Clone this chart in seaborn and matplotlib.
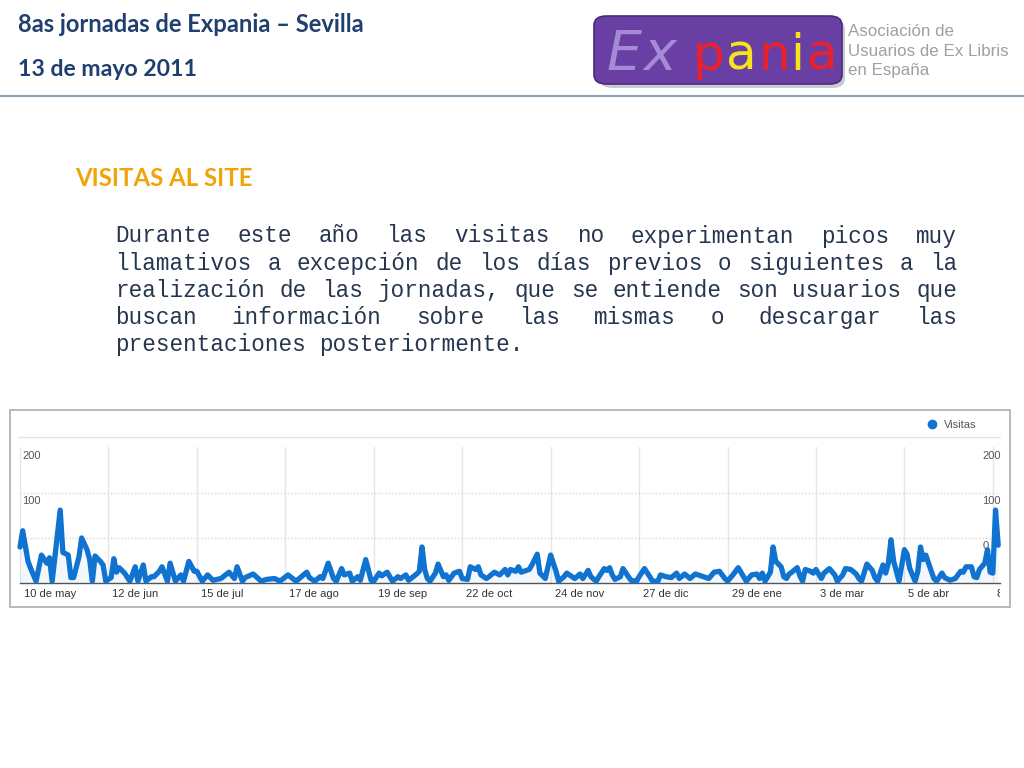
import numpy as np
import pandas as pd
import matplotlib
matplotlib.use("Agg")
import matplotlib.pyplot as plt
import matplotlib.transforms as mtransforms
import seaborn as sns
from matplotlib.patches import FancyBboxPatch, Rectangle
from matplotlib.lines import Line2D

# ---------------- data ----------------
fecha_inicio = "2010-05-10"
dias = [0, 1, 3, 4, 6, 8, 10, 11, 12, 15, 16, 18, 19, 20, 22, 23, 25, 26, 27, 28,
        30, 31, 32, 34, 35, 36, 37, 39, 41, 43, 44, 46, 47, 49, 50, 52, 53, 55, 56, 58,
        60, 61, 63, 65, 66, 68, 70, 72, 75, 78, 80, 81, 83, 84, 87, 90, 92, 95, 97, 100,
        103, 107, 108, 110, 112, 113, 115, 117, 118, 120, 121, 123, 124, 126, 127, 129, 131, 132, 134, 135,
        137, 139, 141, 142, 144, 145, 148, 149, 150, 151, 152, 153, 155, 156, 158, 159, 160, 162, 164, 165,
        167, 168, 170, 171, 172, 174, 175, 177, 179, 181, 182, 183, 185, 186, 187, 190, 191, 193, 194, 196,
        198, 200, 201, 203, 204, 206, 207, 209, 210, 212, 213, 215, 216, 218, 219, 220, 221, 222, 224, 225,
        227, 228, 230, 231, 233, 235, 236, 238, 239, 241, 243, 245, 246, 248, 250, 252, 253, 255, 257, 259,
        261, 263, 264, 266, 268, 270, 271, 273, 275, 276, 277, 278, 279, 280, 281, 282, 284, 285, 286, 287,
        288, 290, 291, 292, 293, 295, 296, 297, 299, 300, 302, 304, 305, 307, 308, 310, 312, 313, 314, 316,
        318, 319, 320, 322, 323, 324, 325, 326, 328, 330, 331, 332, 334, 335, 336, 337, 338, 339, 341, 342,
        344, 345, 347, 349, 351, 352, 353, 355, 356, 357, 358, 360, 361, 362, 363, 364, 365]
visitas = [40, 58, 24, 16, 2, 31, 22, 28, 2, 81, 34, 31, 6, 6, 29, 50, 37, 26, 2, 30,
           24, 20, 2, 6, 27, 12, 17, 11, 2, 18, 2, 20, 2, 7, 7, 13, 18, 2, 22, 2,
           9, 2, 24, 13, 13, 2, 9, 3, 5, 12, 5, 18, 2, 6, 10, 2, 4, 5, 2, 9,
           2, 12, 6, 2, 7, 5, 22, 5, 2, 16, 9, 11, 2, 7, 3, 26, 3, 2, 11, 8,
           12, 2, 7, 5, 9, 3, 10, 13, 40, 15, 5, 2, 11, 21, 7, 9, 3, 11, 13, 5,
           4, 18, 15, 18, 9, 5, 7, 12, 9, 15, 9, 15, 13, 18, 12, 15, 20, 32, 11, 5,
           31, 13, 2, 7, 11, 7, 5, 10, 5, 14, 7, 2, 7, 16, 14, 17, 9, 4, 7, 16,
           7, 3, 2, 7, 16, 7, 2, 2, 9, 7, 6, 11, 5, 10, 5, 10, 9, 7, 5, 12,
           13, 5, 2, 9, 17, 7, 2, 9, 10, 5, 11, 2, 7, 12, 40, 24, 18, 7, 5, 10,
           12, 17, 8, 2, 15, 13, 11, 15, 5, 11, 16, 9, 2, 9, 16, 15, 10, 5, 2, 21,
           14, 6, 2, 20, 11, 22, 48, 24, 2, 37, 32, 16, 2, 13, 40, 26, 31, 22, 5, 2,
           11, 6, 3, 5, 13, 12, 18, 18, 7, 6, 15, 22, 37, 12, 11, 81, 42]

tick_fechas = ["2010-05-10", "2010-06-12", "2010-07-15", "2010-08-17", "2010-09-19", "2010-10-22",
               "2010-11-24", "2010-12-27", "2011-01-29", "2011-03-03", "2011-04-05", "2011-05-08"]
tick_etiquetas = ["10 de may", "12 de jun", "15 de jul", "17 de ago", "19 de sep", "22 de oct",
                  "24 de nov", "27 de dic", "29 de ene", "3 de mar", "5 de abr", "8 de may"]
y_etiquetas_izq = ["200", "100"]
y_etiquetas_der = ["200", "100", "0"]
serie = "Visitas"

titulo1 = "8as jornadas de Expania \u2013 Sevilla"
titulo2 = "13 de mayo 2011"
seccion = "VISITAS AL SITE"
parrafo = ["Durante este año las visitas no experimentan picos muy",
           "llamativos a excepción de los días previos o siguientes a la",
           "realización de las jornadas, que se entiende son usuarios que",
           "buscan información sobre las mismas o descargar las",
           "presentaciones posteriormente."]
logo_letras = ["E", "x", "p", "a", "n", "i", "a"]
logo_colores = ["#a58ad6", "#a58ad6", "#e8212b", "#f6e51b", "#e8212b", "#f6e51b", "#e8212b"]
asociacion = ["Asociación de", "Usuarios de Ex Libris", "en España"]

# ---------------- figure ----------------
sns.set_style("white")
plt.rcParams["font.family"] = ["Liberation Sans", "DejaVu Sans"]

W, H = 1024, 768
fig = plt.figure(figsize=(W / 100, H / 100), dpi=100)
fig.patch.set_facecolor("white")

def fx(px):
    return px / W

def fy(py):
    return 1 - py / H

# header texts
t1 = fig.text(fx(18), fy(25), titulo1, fontsize=15, fontweight="bold", color="#1f3f6e",
              family=["Lato", "DejaVu Sans"], ha="left", va="center")
t2 = fig.text(fx(18), fy(70), titulo2, fontsize=15, fontweight="bold", color="#1f3f6e",
              family=["Lato", "DejaVu Sans"], ha="left", va="center")
fig.add_artist(Line2D([0, 1], [fy(96), fy(96)], transform=fig.transFigure,
                      color="#8ea2b5", lw=1.6))

# logo
shadow = FancyBboxPatch((fx(600), fy(88)), fx(245), fy(20) - fy(88),
                        boxstyle="round,pad=0,rounding_size=0.012",
                        transform=fig.transFigure, facecolor="#bdbdc8", edgecolor="none", alpha=0.8)
fig.add_artist(shadow)
box = FancyBboxPatch((fx(594), fy(84)), fx(248), fy(16) - fy(84),
                     boxstyle="round,pad=0,rounding_size=0.012",
                     transform=fig.transFigure, facecolor="#6a3fa3", edgecolor="#4b2a7a", lw=1.2)
fig.add_artist(box)
letra_x = [624, 660, 708, 741, 774, 797, 822]
for ch, col, lx in zip(logo_letras, logo_colores, letra_x):
    es_ex = col == "#a58ad6"
    fig.text(fx(lx), fy(70), ch, fontsize=40 if es_ex else 36, color=col,
             style="italic" if es_ex else "normal", fontweight="light" if es_ex else "normal",
             family=["DejaVu Sans"], ha="center", va="baseline")
asoc_txt = []
for i, s in enumerate(asociacion):
    asoc_txt.append(fig.text(fx(848), fy(31 + 20 * i), s, fontsize=11.5, color="#a0a0a0",
                             ha="left", va="center"))

# section title
t3 = fig.text(fx(75), fy(178), seccion, fontsize=15, fontweight="bold", color="#f0a30a",
              family=["Lato", "DejaVu Sans"], ha="left", va="center")

# justified monospace paragraph
cw = 13.6
fs_mono = cw / 0.6 * 72 / 100
x0p, x1p = 115, 957
line_y = [236, 263, 290, 317, 345]
for i, (ln, yy) in enumerate(zip(parrafo, line_y)):
    words = ln.split(" ")
    if i < len(parrafo) - 1 and len(words) > 1:
        nchars = sum(len(w) for w in words)
        gap = ((x1p - x0p) - nchars * cw) / (len(words) - 1)
    else:
        gap = cw
    xx = x0p
    for w in words:
        fig.text(fx(xx), fy(yy), w, fontsize=fs_mono, color="#26364f",
                 family=["Liberation Mono", "DejaVu Sans Mono"], ha="left", va="center")
        xx += len(w) * cw + gap

# chart frame
fig.add_artist(Rectangle((fx(10), fy(607)), fx(1000), fy(410) - fy(607), transform=fig.transFigure,
                         facecolor="white", edgecolor="#b3b3b3", lw=1.3, zorder=0))
fig.add_artist(Line2D([fx(18), fx(1000)], [fy(437), fy(437)], transform=fig.transFigure,
                      color="#e4e4e4", lw=1.0))

# chart axes
ax = fig.add_axes([fx(20), fy(583), fx(980), fy(447) - fy(583)])
ax.patch.set_alpha(0)
start = pd.Timestamp(fecha_inicio)
df = pd.DataFrame({"fecha": start + pd.to_timedelta(dias, unit="D"), serie: visitas})
azul = "#1173d0"
ax.fill_between(df["fecha"], df[serie], 0, color=azul, alpha=0.05, lw=0)
sns.lineplot(data=df, x="fecha", y=serie, ax=ax, color=azul, linewidth=3.8,
             solid_joinstyle="round", solid_capstyle="round", clip_on=False, zorder=5)
ax.set_xlim(start, start + pd.Timedelta(days=365.67))
ax.set_ylim(0, 151)

ax.set_xticks(pd.to_datetime(tick_fechas))
ax.set_xticklabels(tick_etiquetas, ha="left", fontsize=8, color="#333333")
ax.tick_params(axis="x", length=7.5, width=1, color="#555555", pad=-3.2, direction="out")
ax.xaxis.grid(True, color="#e6e6e6", lw=1, ls="-")
ax.set_yticks([50, 100])
ax.yaxis.grid(True, color="#d9d9d9", lw=1, ls=(0, (1, 1.5)))
ax.tick_params(axis="y", length=0, labelleft=False)
ax.set_xlabel("")
ax.set_ylabel("")
for side in ["top", "left", "right"]:
    ax.spines[side].set_visible(False)
ax.spines["bottom"].set_color("#555555")
ax.spines["bottom"].set_linewidth(1)

off = mtransforms.ScaledTranslation(4 / 100, 0, fig.dpi_scale_trans)
clip = mtransforms.TransformedBbox(mtransforms.Bbox([[0, 0], [fx(1000), 1]]), fig.transFigure)
for lbl in ax.get_xticklabels():
    lbl.set_transform(lbl.get_transform() + off)
    lbl.set_clip_box(clip)
    lbl.set_clip_on(True)

down = mtransforms.ScaledTranslation(0, -8 / 100, fig.dpi_scale_trans)
ytr = ax.get_yaxis_transform() + down
for lab, yv in zip(y_etiquetas_izq, [150, 100]):
    ax.text(0.002, yv, lab, transform=ytr, ha="left", va="center", fontsize=8, color="#555555")
for lab, yv in zip(y_etiquetas_der, [150, 100, 50]):
    ax.text(0.982, yv, lab, transform=ytr, ha="left", va="center", fontsize=8, color="#555555")

fig.legend(handles=[Line2D([], [], marker="o", ls="", color=azul, markersize=6)], labels=[serie],
           loc="center left", bbox_to_anchor=(fx(926), fy(425)), frameon=False, fontsize=8,
           labelcolor="#555555", handlelength=1, handletextpad=0.6, borderpad=0, borderaxespad=0)

# fit header text widths
fig.canvas.draw()
r = fig.canvas.get_renderer()
def fit(t, target):
    w = t.get_window_extent(renderer=r).width
    t.set_fontsize(t.get_fontsize() * target / w)
fit(t1, 347)
fit(t2, 179)
fit(t3, 178)
fit(asoc_txt[1], 160)
for t in asoc_txt:
    t.set_fontsize(asoc_txt[1].get_fontsize())

fig.savefig("out.png", dpi=100)
